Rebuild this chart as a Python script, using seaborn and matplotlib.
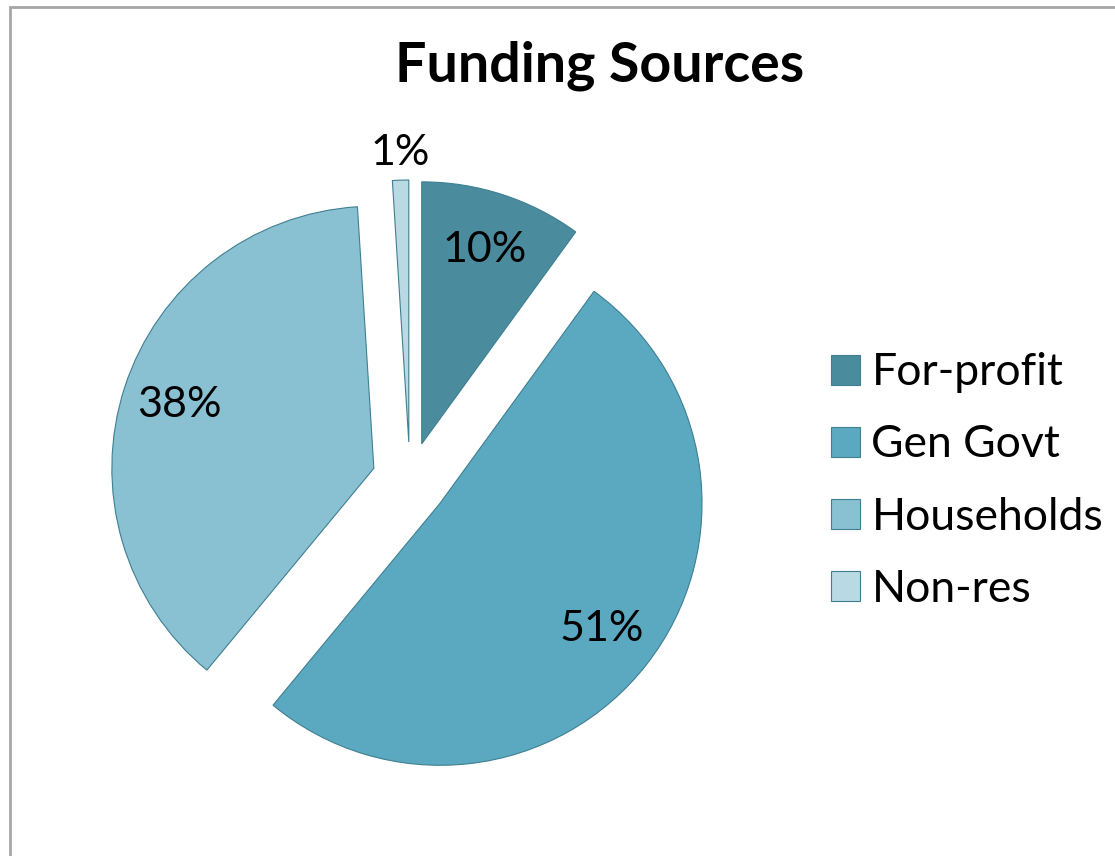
import numpy as np
import matplotlib
matplotlib.use("Agg")
import matplotlib.pyplot as plt
import seaborn as sns
from matplotlib.patches import Rectangle

sns.set_style("white")
plt.rcParams['font.family'] = ['Lato', 'DejaVu Sans']
plt.rcParams['text.color'] = 'black'

# data
sources = ["For-profit", "Gen Govt", "Households", "Non-res"]
shares = [10, 51, 38, 1]
colors = ["#4A8B9E", "#5BA9C0", "#89C1D3", "#B9D9E3"]

fig = plt.figure(figsize=(11.15, 8.56), dpi=100)
# pie centre about (410,480) px, radius ~262 px
ax = fig.add_axes([80/1115, 1 - 810/856, 660/1115, 660/856])

wedges, texts, autotexts = ax.pie(
    shares, colors=colors, startangle=90, counterclock=False,
    explode=[0.145] * len(shares), radius=1.0,
    autopct='%1.0f%%', pctdistance=0.78,
    wedgeprops=dict(edgecolor="#3E7F91", linewidth=0.8),
    textprops=dict(fontsize=31, color="black"))

# small slice label goes outside the wedge
for w, t, s in zip(wedges, autotexts, shares):
    if s < 5:
        ang = np.deg2rad((w.theta1 + w.theta2) / 2)
        r = 1.25
        t.set_position((r * np.cos(ang), r * np.sin(ang)))

ax.set_xlim(-330/262, 330/262)
ax.set_ylim(-330/262, 330/262)
ax.set_aspect('equal')
ax.axis('off')

fig.text(600/1115, 1 - 66/856, "Funding Sources", ha='center', va='center',
         fontsize=40, fontweight='bold', color='black')

leg = fig.legend(wedges, sources, loc='center left',
                 bbox_to_anchor=(831/1115, 1 - 481/856), frameon=False,
                 fontsize=32, handlelength=0.66, handleheight=0.66,
                 labelspacing=0.7, handletextpad=0.25,
                 borderpad=0, borderaxespad=0)
for t in leg.get_texts():
    t.set_color('black')

# light grey frame around the chart area
fig.patches.append(Rectangle((10/1115, -0.05), 1.1, 1 - 7/856 + 0.05,
                             transform=fig.transFigure, fill=False,
                             edgecolor="#A6A6A6", linewidth=2))

fig.savefig("out.png", dpi=100, facecolor="white")
